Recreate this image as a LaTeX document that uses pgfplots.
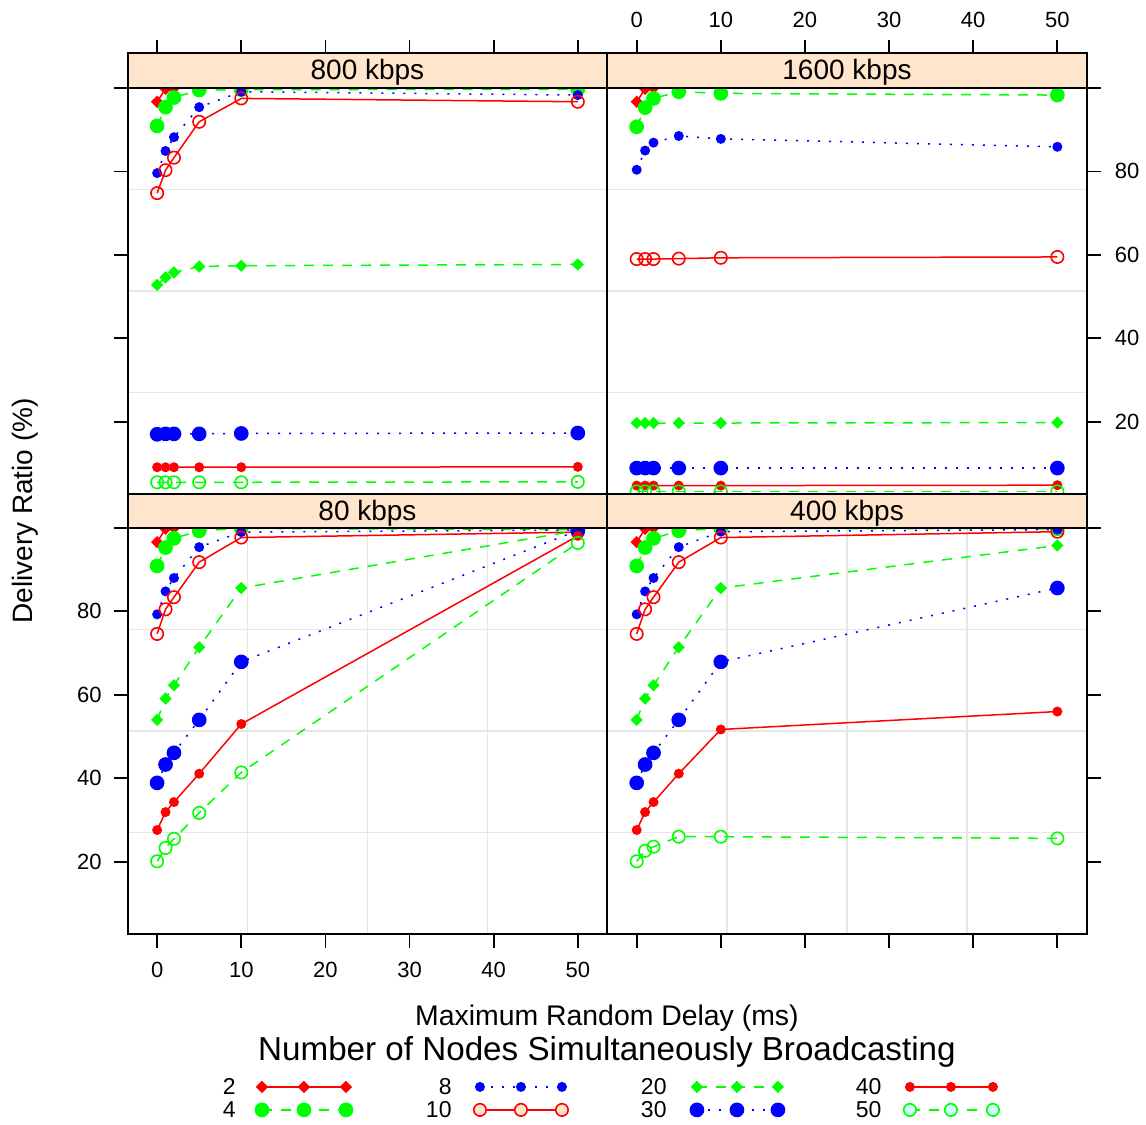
\documentclass[border=0pt]{standalone}
\usepackage{pgfplots}
\pgfplotsset{compat=1.18}
\usepackage{pgfplotstable}
\usepackage{fontspec}
\setmainfont{Liberation Sans}
\definecolor{stripcol}{HTML}{FFE5CC}
\definecolor{cyanfill}{HTML}{CCFFFF}
\definecolor{gridcol}{HTML}{E6E6E6}

% 800 kbps
\pgfplotstableread{
x s2 s4 s8 s10 s20 s30 s40 s50
0 96.7 90.9 79.6 74.8 52.8 17.0 9.1 5.5
1 99.8 95.4 84.9 80.3 54.6 17.1 9.1 5.5
2 100 97.7 88.2 83.3 55.8 17.1 9.1 5.5
5 100 99.5 95.4 91.9 57.2 17.1 9.1 5.5
10 100 99.6 99.1 97.5 57.4 17.2 9.1 5.5
50 100 99.7 98.3 96.7 57.7 17.3 9.2 5.6
}\tblA
% 1600 kbps
\pgfplotstableread{
x s2 s4 s8 s10 s20 s30 s40 s50
0 96.7 90.7 80.4 59.0 19.7 8.9 4.7 3.3
1 99.8 95.3 85.0 59.0 19.7 8.9 4.7 3.3
2 100 97.5 86.9 59.0 19.7 8.9 4.7 3.3
5 100 99.1 88.5 59.1 19.7 8.9 4.7 3.3
10 100 98.7 87.8 59.3 19.7 8.9 4.7 3.3
50 100 98.3 85.9 59.5 19.8 8.9 4.8 3.3
}\tblB
% 80 kbps
\pgfplotstableread{
x s2 s4 s8 s10 s20 s30 s40 s50
0 96.6 90.9 79.3 74.6 54.0 38.9 27.6 20.1
1 99.8 95.3 84.8 80.5 59.1 43.3 31.9 23.3
2 100 97.5 88.0 83.4 62.3 46.1 34.3 25.5
5 100 99.3 95.4 91.8 71.4 54.0 41.1 31.7
10 100 99.9 99.0 97.7 85.6 67.9 53.0 41.4
50 100 99.6 99.5 99.0 99.4 99.4 98.1 96.4
}\tblC
% 400 kbps
\pgfplotstableread{
x s2 s4 s8 s10 s20 s30 s40 s50
0 96.6 90.9 79.3 74.6 54.0 38.9 27.6 20.1
1 99.8 95.3 84.8 80.5 59.1 43.3 31.9 22.6
2 100 97.5 88.0 83.4 62.3 46.1 34.3 23.6
5 100 99.3 95.4 91.8 71.4 54.0 41.1 26.0
10 100 99.9 99.1 97.7 85.6 67.9 51.7 26.0
50 100 99.8 99.6 99.1 95.8 85.6 56.0 25.6
}\tblD

\pgfplotsset{
  panel/.style={scale only axis, width=239.8pt, height=203pt,
    xmin=-3.5, xmax=53.5, ymin=2.7, ymax=100,
    axis line style={line width=1pt},
    tick align=outside, major tick length=7pt,
    every tick/.style={black, line width=0.9pt},
    xtick={0,10,20,30,40,50}, ytick={20,40,60,80,100},
    minor xtick={10.75,25,39.25}, minor ytick={27.025,51.35,75.675},
    xminorgrids=true, yminorgrids=true,
    minor grid style={gridcol, line width=0.8pt},
    minor tick length=0pt,
    tick label style={font=\fontsize{11}{13}\selectfont},
    xticklabel style={yshift=-3.5pt},
    /pgf/number format/assume math mode=true,
    clip=true},
  strip/.style={scale only axis, width=239.8pt,
    xmin=-3.5, xmax=53.5, ymin=0, ymax=1,
    axis background/.style={fill=stripcol},
    ytick=\empty, xtick={0,10,20,30,40,50},
    axis line style={line width=1pt},
    tick align=outside, major tick length=6.5pt,
    every tick/.style={black, line width=0.9pt},
    tick label style={font=\fontsize{11}{13}\selectfont},
    xticklabel style={yshift=2.5pt},
    /pgf/number format/assume math mode=true},
  s2/.style={color=red, solid, line width=0.75pt, mark=square*, mark size=1.8pt, mark options={rotate=45, solid}},
  s4/.style={color=green, line width=0.75pt, dash pattern=on 5pt off 4.5pt, mark=*, mark size=3.3pt, mark options={solid}},
  s8/.style={color=blue, line width=0.75pt, dash pattern=on 1pt off 4.5pt, mark=*, mark size=2.1pt, mark options={solid}},
  s10/.style={color=red, solid, line width=0.75pt, mark=o, mark size=3.1pt, mark options={solid, line width=0.8pt}},
  s20/.style={color=green, line width=0.75pt, dash pattern=on 5pt off 4.5pt, mark=square*, mark size=1.8pt, mark options={rotate=45, solid}},
  s30/.style={color=blue, line width=0.75pt, dash pattern=on 1pt off 4.5pt, mark=*, mark size=3.3pt, mark options={solid}},
  s40/.style={color=red, solid, line width=0.75pt, mark=*, mark size=2.1pt, mark options={solid}},
  s50/.style={color=green, line width=0.75pt, dash pattern=on 5pt off 4.5pt, mark=o, mark size=3.1pt, mark options={solid, line width=0.8pt}},
}

\newcommand{\allseries}[1]{%
  \addplot[s2] table[x=x, y=s2] {#1};
  \addplot[s4] table[x=x, y=s4] {#1};
  \addplot[s8] table[x=x, y=s8] {#1};
  \addplot[s10] table[x=x, y=s10] {#1};
  \addplot[s20] table[x=x, y=s20] {#1};
  \addplot[s30] table[x=x, y=s30] {#1};
  \addplot[s40] table[x=x, y=s40] {#1};
  \addplot[s50] table[x=x, y=s50] {#1};
}

\begin{document}
\begin{tikzpicture}
\path (0,0) rectangle (573pt,562.5pt);

% ---- top left: 800 kbps
\begin{axis}[panel, at={(63.85pt,315.5pt)}, anchor=south west,
  xtick=\empty, ytick pos=left, yticklabel=\empty]
\allseries{\tblA}
\end{axis}
\begin{axis}[strip, height=17.5pt, at={(63.85pt,518.5pt)}, anchor=south west,
  xtick pos=upper, xticklabel=\empty]
\node[font=\fontsize{14}{16}\selectfont, yshift=-1pt] at (rel axis cs:0.5,0.5) {800 kbps};
\end{axis}

% ---- top right: 1600 kbps
\begin{axis}[panel, at={(303.65pt,315.5pt)}, anchor=south west,
  xtick=\empty, ytick pos=right, yticklabel pos=right,
  yticklabel style={xshift=3.5pt},
  yticklabels={20,40,60,80,{}}]
\allseries{\tblB}
\end{axis}
\begin{axis}[strip, height=17.5pt, at={(303.65pt,518.5pt)}, anchor=south west,
  xtick pos=upper, xticklabel pos=upper]
\node[font=\fontsize{14}{16}\selectfont, yshift=-1pt] at (rel axis cs:0.5,0.5) {1600 kbps};
\end{axis}

% ---- bottom left: 80 kbps
\begin{axis}[panel, at={(63.85pt,95.5pt)}, anchor=south west,
  xtick pos=lower, ytick pos=left,
  yticklabel style={xshift=-2.5pt},
  yticklabels={20,40,60,80,{}}]
\allseries{\tblC}
\end{axis}
\begin{axis}[strip, height=17pt, at={(63.85pt,298.5pt)}, anchor=south west,
  xtick=\empty]
\node[font=\fontsize{14}{16}\selectfont, yshift=-1pt] at (rel axis cs:0.5,0.5) {80 kbps};
\end{axis}

% ---- bottom right: 400 kbps
\begin{axis}[panel, at={(303.65pt,95.5pt)}, anchor=south west,
  xtick pos=lower, xticklabel=\empty, ytick pos=right, yticklabel=\empty]
\allseries{\tblD}
\end{axis}
\begin{axis}[strip, height=17pt, at={(303.65pt,298.5pt)}, anchor=south west,
  xtick=\empty]
\node[font=\fontsize{14}{16}\selectfont, yshift=-1pt] at (rel axis cs:0.5,0.5) {400 kbps};
\end{axis}

% ---- labels and key (pixel coordinates of the reference)
\begin{scope}[x=0.5pt, y=-0.5pt, yshift=562.5pt]
\node[rotate=90, font=\fontsize{14}{16}\selectfont] at (25,511) {Delivery Ratio (\%)};
\node[font=\fontsize{14.2}{16}\selectfont] at (607,1018) {Maximum Random Delay (ms)};
\node[font=\fontsize{16.6}{19}\selectfont] at (607,1052) {Number of Nodes Simultaneously Broadcasting};

\begin{scope}[font=\fontsize{11.5}{13}\selectfont]
\node[anchor=east, inner sep=0pt] at (236,1087) {2};
\node[anchor=east, inner sep=0pt] at (236,1110) {4};
\node[anchor=east, inner sep=0pt] at (452,1087) {8};
\node[anchor=east, inner sep=0pt] at (452,1110) {10};
\node[anchor=east, inner sep=0pt] at (667,1087) {20};
\node[anchor=east, inner sep=0pt] at (667,1110) {30};
\node[anchor=east, inner sep=0pt] at (882,1087) {40};
\node[anchor=east, inner sep=0pt] at (882,1110) {50};
\end{scope}
\draw[red, line width=0.75pt] plot[mark=square*, mark size=1.8pt, mark options={rotate=45}] coordinates {(262,1087) (304,1087) (346,1087)};
\draw[green, line width=0.75pt, dash pattern=on 5pt off 4.5pt] plot[mark=*, mark size=3.3pt, mark options={solid}] coordinates {(262,1110) (304,1110) (346,1110)};
\draw[blue, line width=0.75pt, dash pattern=on 1pt off 4.5pt] plot[mark=*, mark size=2.1pt, mark options={solid}] coordinates {(480,1087) (521,1087) (562,1087)};
\draw[red, line width=0.75pt] plot[mark=*, mark size=3.1pt, mark options={fill=stripcol, line width=0.8pt}] coordinates {(480,1110) (521,1110) (562,1110)};
\draw[green, line width=0.75pt, dash pattern=on 5pt off 4.5pt] plot[mark=square*, mark size=1.8pt, mark options={rotate=45, solid}] coordinates {(697,1087) (737,1087) (778,1087)};
\draw[blue, line width=0.75pt, dash pattern=on 1pt off 4.5pt] plot[mark=*, mark size=3.3pt, mark options={solid}] coordinates {(697,1110) (737,1110) (778,1110)};
\draw[red, line width=0.75pt] plot[mark=*, mark size=2.1pt] coordinates {(910,1087) (951,1087) (993,1087)};
\draw[green, line width=0.75pt, dash pattern=on 5pt off 4.5pt] plot[mark=*, mark size=3.1pt, mark options={solid, fill=cyanfill, line width=0.8pt}] coordinates {(910,1110) (951,1110) (993,1110)};
\end{scope}
\end{tikzpicture}
\end{document}
